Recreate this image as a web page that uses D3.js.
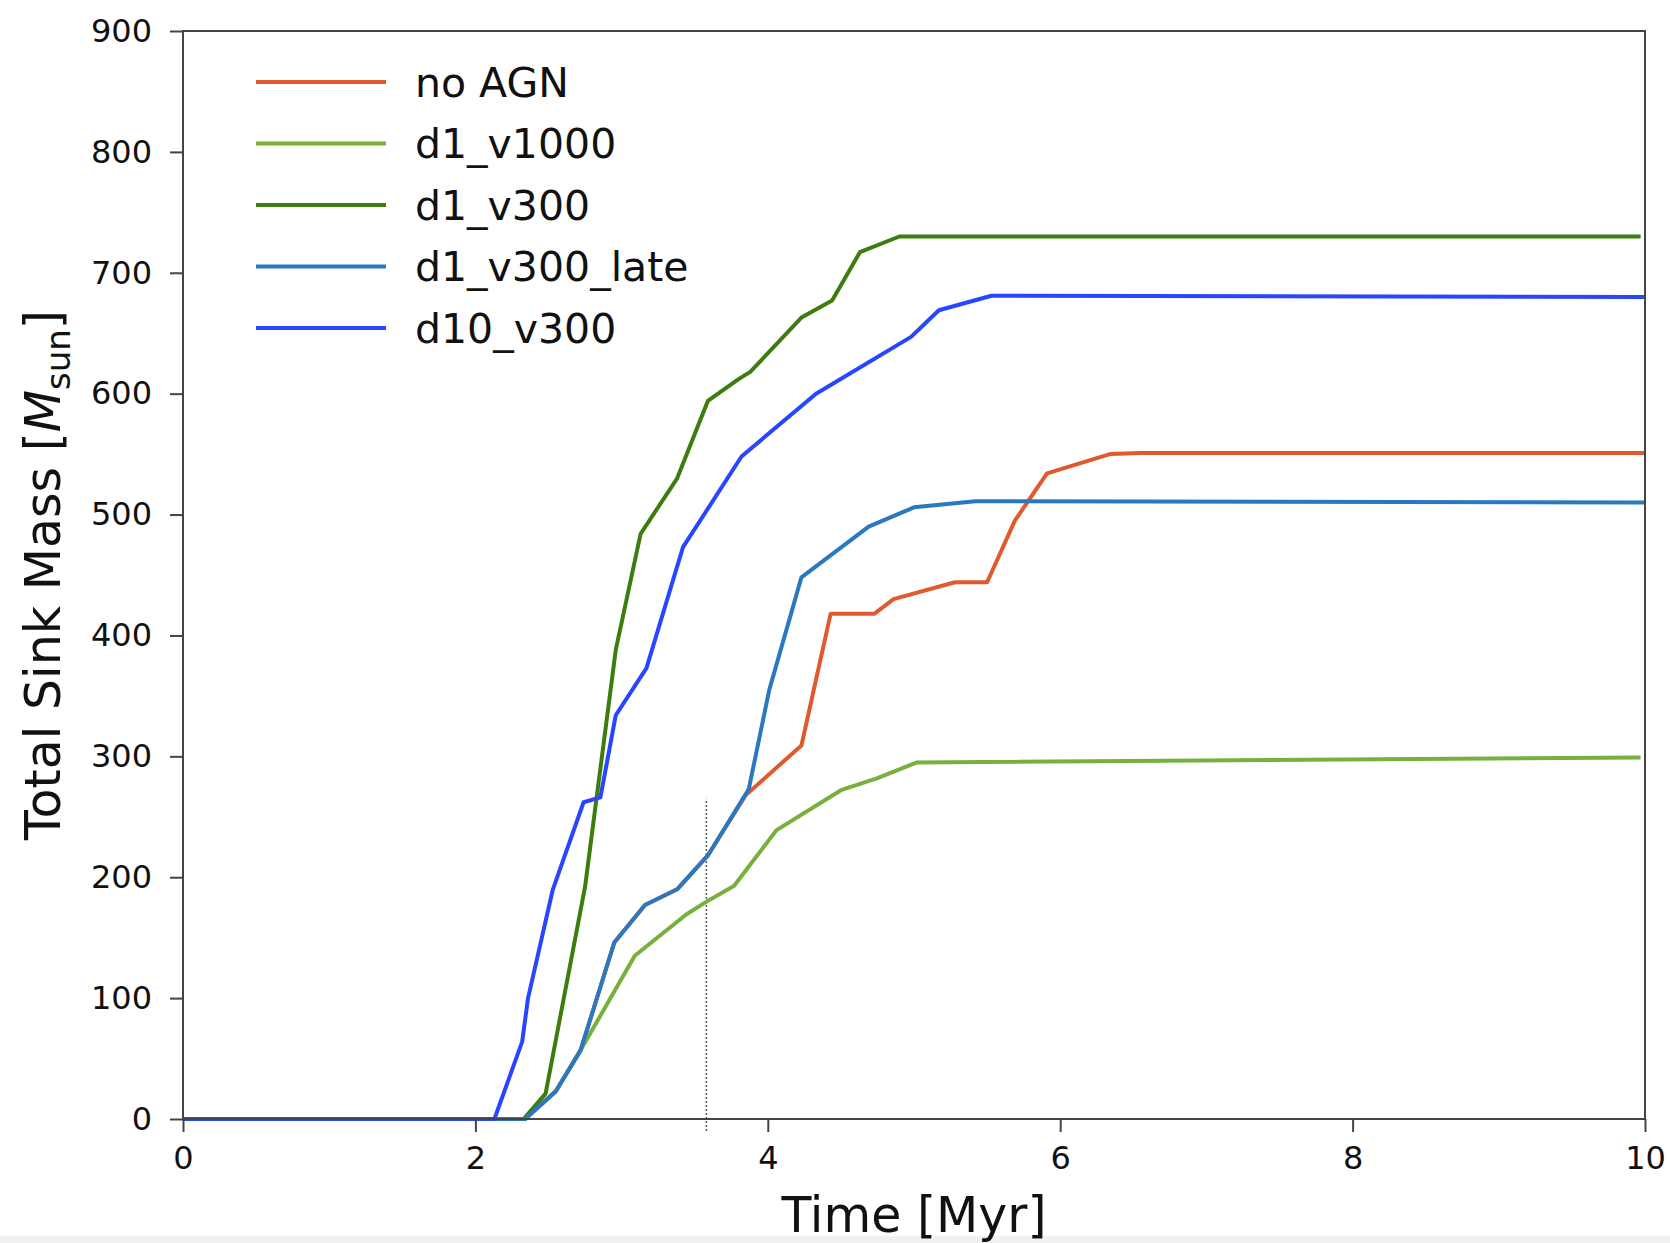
<!DOCTYPE html>
<html>
<head>
<meta charset="utf-8">
<script src="https://cdn.jsdelivr.net/npm/d3@7"></script>
<style>
  html, body { margin: 0; padding: 0; background: #fff; }
  svg { display: block; }
  text { font-family: "DejaVu Sans", sans-serif; fill: #111; }
</style>
</head>
<body>
<svg id="chart" width="1670" height="1243"></svg>
<script>
// ---------- data ----------
const seriesNames = ["no AGN", "d1_v1000", "d1_v300", "d1_v300_late", "d10_v300"];
const seriesColors = ["#e05a2e", "#78b03c", "#3d7d0e", "#2a78c0", "#2845ff"];

const noAGN_t = [0, 2.34, 2.55, 2.72, 2.95, 3.16, 3.38, 3.59, 3.85, 4.23, 4.43, 4.73, 4.86, 5.28, 5.50, 5.69, 5.91, 6.34, 6.55, 10];
const noAGN_m = [0, 0, 23, 57, 146, 177, 190, 218, 268, 309, 418, 418, 430, 444, 444, 495, 534, 550, 551, 551];

const d1v1000_t = [0, 2.34, 2.55, 2.72, 3.09, 3.44, 3.57, 3.77, 4.06, 4.50, 4.75, 5.02, 9.97];
const d1v1000_m = [0, 0, 23, 57, 135, 169, 179, 193, 239, 272, 282, 295, 299];

const d1v300_t = [0, 2.33, 2.48, 2.75, 2.96, 3.13, 3.38, 3.59, 3.80, 3.88, 4.23, 4.44, 4.63, 4.90, 9.97];
const d1v300_m = [0, 0, 21, 192, 388, 484, 530, 594, 612, 618, 663, 677, 717, 730, 730];

const d1v300late_t = [0, 2.34, 2.55, 2.72, 2.95, 3.16, 3.38, 3.59, 3.87, 4.01, 4.23, 4.69, 5.00, 5.42, 10];
const d1v300late_m = [0, 0, 23, 57, 146, 177, 190, 218, 273, 355, 448, 490, 506, 511, 510];

const d10v300_t = [0, 2.13, 2.32, 2.36, 2.53, 2.74, 2.855, 2.96, 3.17, 3.42, 3.82, 4.33, 4.98, 5.17, 5.53, 10];
const d10v300_m = [0, 0, 64, 100, 190, 262, 266, 334, 373, 473, 548, 600, 647, 669, 681, 680];

const xTicks = [0, 2, 4, 6, 8, 10];
const yTicks = [0, 100, 200, 300, 400, 500, 600, 700, 800, 900];
const markerTime = [3.58];
const markerRange = [-10, 265];

const seriesT = [noAGN_t, d1v1000_t, d1v300_t, d1v300late_t, d10v300_t];
const seriesM = [noAGN_m, d1v1000_m, d1v300_m, d1v300late_m, d10v300_m];

// ---------- layout ----------
const L = 183, R = 1645, T = 31, B = 1119;
const svg = d3.select("#chart");

const x = d3.scaleLinear().domain([0, 10]).range([L, R]);
const y = d3.scaleLinear().domain([0, 900]).range([B, T]);

const axisColor = "#444";

// faint band at the bottom edge of the screenshot
svg.append("rect").attr("x", 0).attr("y", 1236).attr("width", 1670).attr("height", 7)
  .attr("fill", "#f1f1f1");

// dotted marker line
svg.append("line")
  .attr("x1", x(markerTime[0])).attr("x2", x(markerTime[0]))
  .attr("y1", y(markerRange[0])).attr("y2", y(markerRange[1]))
  .attr("stroke", "#555").attr("stroke-width", 1.5)
  .attr("stroke-dasharray", "2,2");

// series lines
const line = d3.line().x(d => x(d[0])).y(d => y(d[1]));
seriesNames.forEach((name, i) => {
  const pts = seriesT[i].map((t, j) => [t, seriesM[i][j]]);
  svg.append("path")
    .attr("d", line(pts))
    .attr("fill", "none")
    .attr("stroke", seriesColors[i])
    .attr("stroke-width", 4)
    .attr("stroke-linejoin", "round");
});

// frame
svg.append("rect")
  .attr("x", L).attr("y", T).attr("width", R - L).attr("height", B - T)
  .attr("fill", "none").attr("stroke", axisColor).attr("stroke-width", 2);

// axes
const xAxis = svg.append("g").attr("transform", `translate(0,${B})`)
  .call(d3.axisBottom(x).tickValues(xTicks).tickFormat(d3.format("d")).tickSize(13).tickPadding(14));
const yAxis = svg.append("g").attr("transform", `translate(${L},0)`)
  .call(d3.axisLeft(y).tickValues(yTicks).tickFormat(d3.format("d")).tickSize(13).tickPadding(18));
[xAxis, yAxis].forEach(g => {
  g.select(".domain").remove();
  g.selectAll(".tick line").attr("stroke", axisColor).attr("stroke-width", 2);
  g.selectAll(".tick text").style("font-family", "DejaVu Sans, sans-serif")
    .style("font-size", "32px").attr("fill", "#111");
});

// axis labels
svg.append("text")
  .attr("x", (L + R) / 2).attr("y", 1232)
  .attr("text-anchor", "middle")
  .style("font-size", "49px")
  .text("Time [Myr]");

const yl = svg.append("text")
  .attr("transform", `translate(60,${(T + B) / 2}) rotate(-90)`)
  .attr("text-anchor", "middle")
  .style("font-size", "49px");
yl.append("tspan").text("Total Sink Mass [");
yl.append("tspan").style("font-style", "italic").text("M");
yl.append("tspan").attr("dy", 10).style("font-size", "34px").text("sun");
yl.append("tspan").attr("dy", -10).text("]");

// legend
const legX1 = 256, legX2 = 386, legTextX = 415, legY0 = 82, legDy = 61.5;
seriesNames.forEach((name, i) => {
  const yy = legY0 + i * legDy;
  svg.append("line")
    .attr("x1", legX1).attr("x2", legX2).attr("y1", yy).attr("y2", yy)
    .attr("stroke", seriesColors[i]).attr("stroke-width", 4);
  svg.append("text")
    .attr("x", legTextX).attr("y", yy).attr("dy", "0.36em")
    .style("font-size", "41px")
    .text(name);
});
</script>
</body>
</html>
